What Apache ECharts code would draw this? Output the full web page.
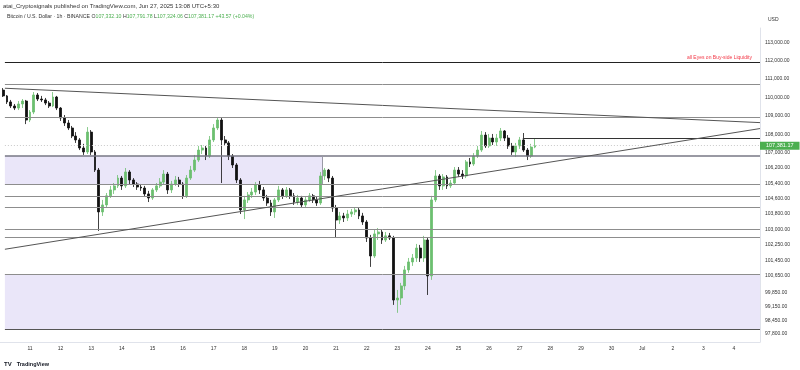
<!DOCTYPE html>
<html><head><meta charset="utf-8">
<script src="https://cdn.jsdelivr.net/npm/echarts@6.0.0/dist/echarts.min.js"></script>
<style>html,body{margin:0;padding:0;background:#fff;}#chart{width:800px;height:370px;}</style>
</head><body><div id="chart"></div>
<script>
// ---- tick labels ----
const dayTicks = [11,12,13,14,15,16,17,18,19,20,21,22,23,24,25,26,27,28,29,30,31,32,33,34];
const dayLabels = ['11','12','13','14','15','16','17','18','19','20','21','22','23','24','25','26','27','28','29','30','Jul','2','3','4'];
const priceTicks = [113000,112000,111000,110000,109000,108000,107000,106200,105400,104600,103800,103000,102250,101450,100650,99850,99150,98450,97800];

// ---- candles (3h, starting June 10 03:00) ----
const firstCandleDay = 10.125;
const candleStepDays = 0.125;
const opens = [
110390,110070,109740,109520,109410,109630,109790,108760,109190,110120,
109900,109850,109680,109520,110010,109410,108870,108600,108330,107900,
107690,107260,107050,108110,107050,106090,103910,104270,104740,105050,
105260,105670,105260,105990,105570,105360,105200,105150,104840,104630,
105050,105260,105460,105880,105050,105360,105570,105360,104740,105670,
106090,106620,107150,107260,106830,107690,108330,108760,107690,107530,
106830,106360,105570,104010,104530,104790,104940,105310,105050,104630,
104370,103910,104530,105050,104740,105050,104740,104420,104630,104270,
104530,104740,104530,104370,105780,106090,105670,104110,103490,103700,
103600,103800,103910,104010,103700,103390,102570,101660,102780,102880,
102470,102680,102570,99460,99560,100160,100960,101360,101560,102060,
101560,102470,100660,104530,105780,105260,105730,105260,105410,106090,
105880,105780,106520,106410,106830,107150,107950,107370,107790,107580,
107790,108170,107790,107370,107050,107370,107690,107150,106830,107310];
const highs = [
110500,110120,109850,109630,109790,109900,109850,109300,110280,110230,
110070,109960,109790,110280,110070,109460,109030,108760,108440,108110,
107790,107480,108380,108220,107150,106200,104530,104890,105260,105410,
105830,105780,106200,106090,105670,105460,105360,105260,105000,105150,
105410,105670,106090,105990,105520,105780,105730,105460,105830,106310,
106890,107370,107420,107370,107900,108540,108920,108870,107900,107630,
106940,106460,105670,104740,104940,105150,105460,105520,105200,104790,
104530,104630,105260,105150,105200,105150,104890,104790,104740,104680,
104890,104840,104680,105990,106200,106150,105780,104270,103910,103860,
104010,104060,104160,104110,103860,103490,102730,102980,103080,102980,
102880,102830,102680,99960,100310,101160,101560,101760,102270,102220,
102680,102570,104740,106090,105880,105880,105830,105570,106250,106250,
106090,106620,106730,106990,107370,108170,108110,108010,108010,108010,
108330,108220,107950,107530,107530,107850,108060,107260,107480,107791.78];
const lows = [
110010,109630,109410,109300,109300,109410,108540,108650,109080,109790,
109740,109570,109410,109460,109300,108710,108440,108220,107790,107530,
107150,106890,106940,106890,105990,102930,103700,104110,104630,104840,
105150,105050,105150,105360,105200,105050,105000,104680,104420,104530,
104940,105150,105360,104840,104890,105260,105200,104580,104630,105570,
105990,106520,106940,106620,106730,107580,108220,105410,107370,106620,
106200,105410,103800,103540,104370,104630,104790,104840,104480,104220,
103700,103600,104420,104580,104630,104580,104270,104270,104110,104160,
104420,104370,104220,104270,105570,105460,103910,102570,103290,103390,
103440,103650,103750,103540,103240,102370,101110,101560,102470,102270,
102370,102470,99220,98830,99220,99960,100810,101160,101360,101360,
101360,99710,100460,104420,105050,105050,105100,105150,105310,105730,
105620,105670,106250,106310,106730,107050,107260,107260,107420,107370,
107630,107630,107210,106890,106780,107210,107050,106620,106730,107250];
const closes = [
110070,109740,109520,109410,109630,109790,108760,109190,110120,109900,
109850,109680,109520,110010,109410,108870,108600,108330,107900,107690,
107260,107050,108110,107050,106090,103910,104270,104740,105050,105260,
105670,105260,105990,105570,105360,105200,105150,104840,104630,105050,
105260,105460,105880,105050,105360,105570,105360,104740,105670,106090,
106620,107150,107260,106830,107690,108330,108760,107690,107530,106830,
106360,105570,104010,104530,104790,104940,105310,105050,104630,104370,
103910,104530,105050,104740,105050,104740,104420,104630,104270,104530,
104740,104530,104370,105780,106090,105670,104110,103490,103700,103600,
103800,103910,104010,103700,103390,102570,101660,102780,102880,102470,
102680,102570,99460,99560,100160,100960,101360,101560,102060,101560,
102470,100660,104530,105780,105260,105730,105260,105410,106090,105880,
105780,106520,106410,106830,107150,107950,107370,107790,107580,107790,
108170,107790,107370,107050,107370,107690,107150,106830,107310,107381.17];

// ---- drawings ----
const drawStartDay = 10.18;
const chartEndDay = 34.85;
const liquidityLevel = 111950;
const grayLevels = [110720, 108920, 105360, 104740, 104160, 103030, 102620];
const upperZone = [105360, 106830];
const upperZoneEndDay = 20.54;
const lowerZone = [98040, 100760];
const recentHigh = 107791.78;
const recentHighStartDay = 27.1;
const lastPrice = 107381.17;
const descTrend = [[10.18, 110490], [34.85, 108620]];
const ascTrend = [[10.18, 102000], [34.85, 108300]];

// ---- texts ----
const headerLine1 = 'atai_Cryptosignals published on TradingView.com, Jun 27, 2025 13:08 UTC+5:30';
const symbolText = 'Bitcoin / U.S. Dollar · 1h · BINANCE';
const ohlcText = ['107,332.10', '107,791.78', '107,324.06', '107,381.17'];
const changeText = '+43.57 (+0.04%)';
const noteText = 'all Eyes on Buy-side Liquidity';

const FONT = 'Liberation Sans, Arial, sans-serif';
const fmtPrice = v => v.toLocaleString('en-US', {minimumFractionDigits: 2, maximumFractionDigits: 2});

const candleData = closes.map((c, i) => [firstCandleDay + i * candleStepDays, opens[i], c, lows[i], highs[i]]);

const hSeg = (x0, x1, p, lineStyle, label) => [
  {coord: [x0, p], lineStyle: lineStyle, label: label || {show: false}},
  {coord: [x1, p]}
];
const grayStyle = {color: '#8d8d8d', width: 1, type: 'solid'};
const markLines = [];
grayLevels.forEach(p => markLines.push(hSeg(drawStartDay, chartEndDay, p, grayStyle)));
markLines.push(hSeg(drawStartDay, chartEndDay, upperZone[1], {color: '#777784', width: 1.5, type: 'solid'}));
markLines.push(hSeg(drawStartDay, chartEndDay, lowerZone[1], {color: '#8d8d8d', width: 1, type: 'solid'}));
markLines.push(hSeg(drawStartDay, chartEndDay, lowerZone[0], {color: '#555', width: 1, type: 'solid'}));
markLines.push(hSeg(drawStartDay, chartEndDay, liquidityLevel, {color: '#222', width: 1, type: 'solid'},
  {show: true, position: 'insideEndTop', formatter: noteText, color: '#f23645', fontSize: 5, fontFamily: FONT, distance: [8, 2]}));
markLines.push(hSeg(recentHighStartDay, chartEndDay, recentHigh, {color: '#333', width: 1, type: 'solid'}));
markLines.push(hSeg(drawStartDay, chartEndDay, lastPrice, {color: '#c9c9c9', width: 1, type: [1, 2]},
  {show: true, position: 'end', formatter: fmtPrice(lastPrice), color: '#fff', backgroundColor: '#4caf50',
   padding: [1, 6, 1, 6], fontSize: 5.5, fontFamily: FONT, distance: 0}));
markLines.push([{coord: descTrend[0], lineStyle: {color: '#555', width: 1, type: 'solid'}, label: {show: false}}, {coord: descTrend[1]}]);
markLines.push([{coord: ascTrend[0], lineStyle: {color: '#555', width: 1, type: 'solid'}, label: {show: false}}, {coord: ascTrend[1]}]);
markLines.push([{coord: [upperZoneEndDay, upperZone[0]], lineStyle: {color: '#9a9aa6', width: 1, type: 'solid'}, label: {show: false}}, {coord: [upperZoneEndDay, upperZone[1]]}]);

const chart = echarts.init(document.getElementById('chart'), null, {renderer: 'canvas'});
chart.setOption({
  animation: false,
  backgroundColor: '#fff',
  textStyle: {fontFamily: FONT},
  title: [
    {text: headerLine1, left: 3, top: 3, padding: 0, textStyle: {fontSize: 6, fontWeight: 'normal', color: '#333', fontFamily: FONT}},
    {text: '{d|' + symbolText + ' O}{g|' + ohlcText[0] + '}{d| H}{g|' + ohlcText[1] + '}{d| L}{g|' + ohlcText[2] + '}{d| C}{g|' + ohlcText[3] + '}{g| ' + changeText + '}',
     left: 7, top: 14, padding: 0,
     textStyle: {fontSize: 5.2, fontWeight: 'normal', fontFamily: FONT,
       rich: {d: {fontSize: 5.2, color: '#333', fontFamily: FONT}, g: {fontSize: 5.2, color: '#4caf50', fontFamily: FONT}}}},
    {text: '{b|TV} {t|TradingView}', left: 4, top: 355, padding: 0,
     textStyle: {fontFamily: FONT, rich: {b: {fontSize: 6, fontWeight: 'bold', color: '#131722'}, t: {fontSize: 5.5, color: '#131722'}}}}
  ],
  grid: {left: 0, right: 40, top: 28, bottom: 28},
  xAxis: {
    type: 'value', min: 10.02, max: chartEndDay,
    axisLine: {show: true, lineStyle: {color: '#e0e3eb'}},
    axisTick: {show: false}, splitLine: {show: false},
    axisLabel: {customValues: dayTicks, fontSize: 5, color: '#333', margin: 4, fontFamily: FONT,
      formatter: v => dayLabels[dayTicks.indexOf(Math.round(v))] || ''}
  },
  yAxis: {
    type: 'log', position: 'right', min: 97409, max: 113845,
    name: 'USD', nameLocation: 'end', nameGap: 6,
    nameTextStyle: {fontSize: 5, color: '#333', align: 'left', padding: [0, 0, 0, 8], fontFamily: FONT},
    axisLine: {show: true, lineStyle: {color: '#e0e3eb'}},
    axisTick: {show: false}, splitLine: {show: false},
    axisLabel: {customValues: priceTicks, fontSize: 5, color: '#333', margin: 5, fontFamily: FONT,
      formatter: v => fmtPrice(v)}
  },
  series: [{
    type: 'candlestick',
    dimensions: ['t', 'open', 'close', 'lowest', 'highest'],
    encode: {x: 't', y: ['open', 'close', 'lowest', 'highest']},
    data: candleData,
    barWidth: 2.4,
    itemStyle: {color: '#6cbf70', color0: '#111', borderColor: '#6cbf70', borderColor0: '#111', borderWidth: 0.8},
    markArea: {
      silent: true,
      data: [
        [{coord: [drawStartDay, upperZone[0]], itemStyle: {color: 'rgba(200,190,240,0.38)'}}, {coord: [upperZoneEndDay, upperZone[1]]}],
        [{coord: [drawStartDay, lowerZone[0]], itemStyle: {color: 'rgba(200,190,240,0.38)'}}, {coord: [chartEndDay, lowerZone[1]]}]
      ]
    },
    markLine: {silent: true, symbol: ['none', 'none'], animation: false, data: markLines}
  }]
});
</script>
</body></html>
